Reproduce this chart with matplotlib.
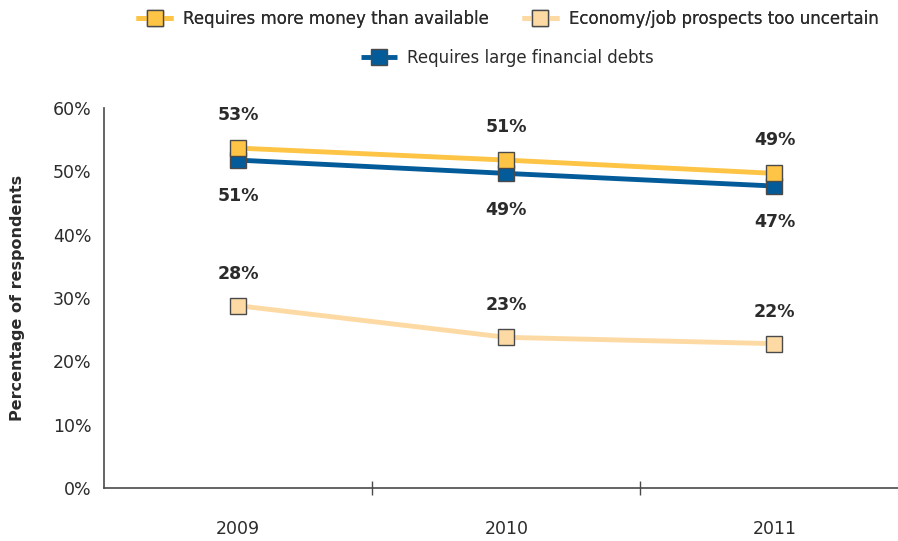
import matplotlib.pyplot as plt
import numpy as np

years = ["2009", "2010", "2011"]
more_money = [53.7, 51.8, 49.7]
large_debts = [51.8, 49.7, 47.7]
uncertain = [28.8, 23.8, 22.8]

GOLD = "#FDC445"
PEACH = "#FDDAA4"
BLUE = "#035B9A"
EDGE = "#4a4a4a"
TEXT = "#2b2b2b"


def main() -> None:
    plt.rcParams["font.family"] = ["DejaVu Sans"]
    fig = plt.figure(figsize=(8.98, 5.41), dpi=100)
    ax = fig.add_axes([0.1158, 0.098, 0.89, 0.702])

    x = np.arange(len(years))
    style = dict(marker="s", markersize=11, markeredgecolor=EDGE,
                 markeredgewidth=1.0, linewidth=3.5, solid_capstyle="butt")

    l_unc, = ax.plot(x, uncertain, color=PEACH, markerfacecolor=PEACH,
                     label="Economy/job prospects too uncertain", **style)
    l_debt, = ax.plot(x, large_debts, color=BLUE, markerfacecolor=BLUE,
                      label="Requires large financial debts", **style)
    l_money, = ax.plot(x, more_money, color=GOLD, markerfacecolor=GOLD,
                       label="Requires more money than available", **style)

    lab = dict(ha="center", va="center", fontsize=12.5, fontweight="bold",
               color=TEXT)
    for i in x:
        ax.annotate(f"{int(more_money[i])}%", (i, more_money[i]),
                    xytext=(0, 24), textcoords="offset points", **lab)
        ax.annotate(f"{int(large_debts[i])}%", (i, large_debts[i]),
                    xytext=(0, -26), textcoords="offset points", **lab)
        ax.annotate(f"{int(uncertain[i])}%", (i, uncertain[i]),
                    xytext=(0, 23), textcoords="offset points", **lab)

    ax.set_xlim(-0.5, 2.48)
    ax.set_ylim(0, 60)
    ax.set_yticks(np.arange(0, 61, 10))
    ax.set_yticklabels([f"{v}%" for v in range(0, 61, 10)])
    ax.set_xticks(x)
    ax.set_xticklabels(years)
    ax.set_xticks([0.5, 1.5], minor=True)
    ax.tick_params(axis="x", which="major", length=0, pad=23,
                   labelsize=12.5, labelcolor=TEXT)
    ax.tick_params(axis="x", which="minor", length=10, direction="inout",
                   color=EDGE, width=1)
    ax.tick_params(axis="y", length=0, pad=9, labelsize=12.5,
                   labelcolor=TEXT)

    for s in ["top", "right"]:
        ax.spines[s].set_visible(False)
    for s in ["left", "bottom"]:
        ax.spines[s].set_color(EDGE)
        ax.spines[s].set_linewidth(1.2)

    fig.text(0.02, 0.45, "Percentage of respondents", rotation=90,
             ha="center", va="center", fontsize=11.5, fontweight="bold",
             color=TEXT)

    leg_kw = dict(frameon=False, fontsize=12, handlelength=2.2,
                  handletextpad=0.6, labelcolor=TEXT)
    leg1 = fig.legend(handles=[l_money, l_unc], ncol=2, loc="center",
                      bbox_to_anchor=(0.565, 0.965), columnspacing=2.0,
                      **leg_kw)
    fig.add_artist(leg1)
    fig.legend(handles=[l_debt], loc="center",
               bbox_to_anchor=(0.565, 0.893), **leg_kw)

    fig.savefig("out.png", dpi=100)
    plt.close(fig)


if __name__ == "__main__":
    main()
